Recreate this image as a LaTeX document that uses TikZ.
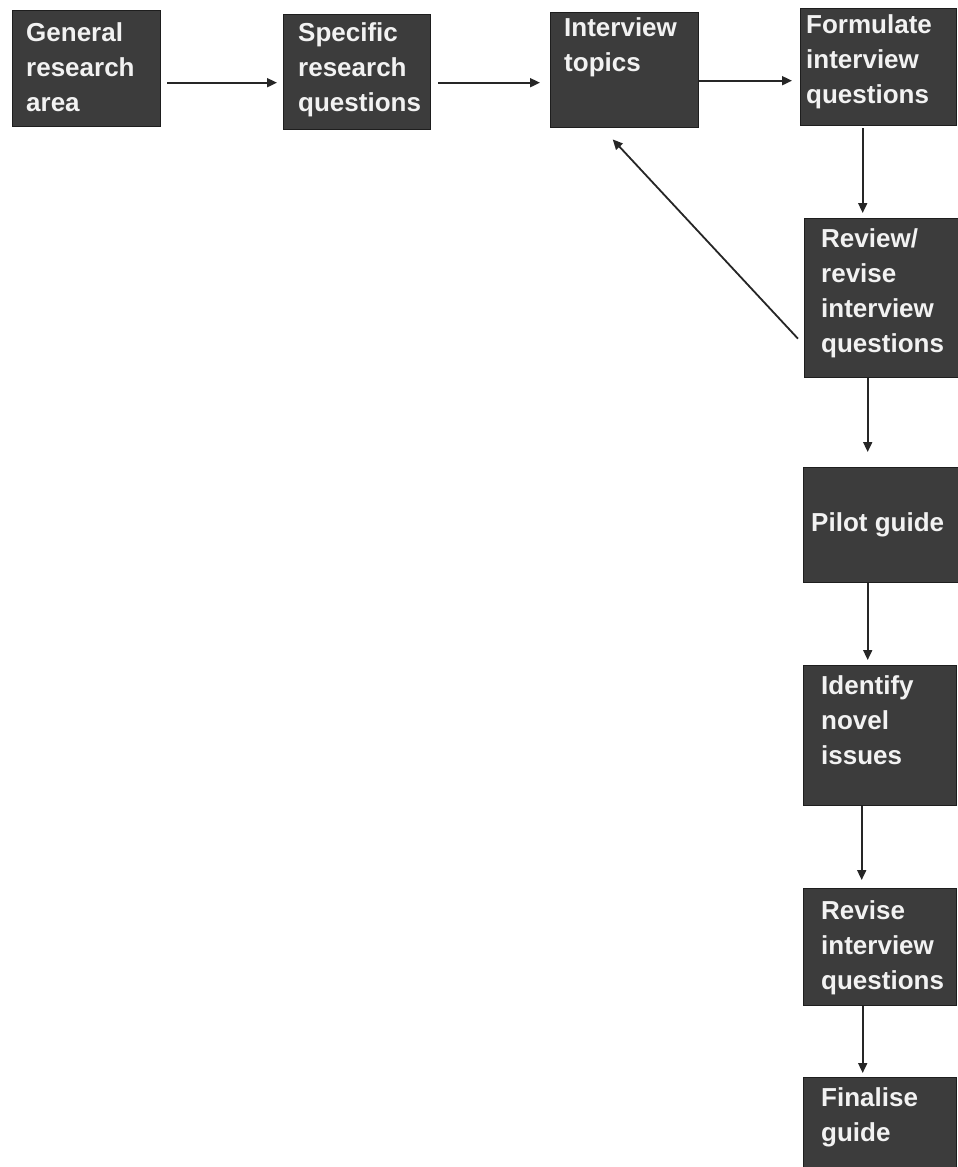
\documentclass[tikz,border=0pt]{standalone}
\usepackage{fontspec}
\setmainfont{Liberation Sans}
\usetikzlibrary{arrows.meta}
\definecolor{boxfill}{HTML}{3C3C3C}
\definecolor{boxedge}{HTML}{1E1E1E}
\definecolor{boxtext}{HTML}{F2F2F2}
\definecolor{linkcol}{HTML}{262626}
\tikzset{
  stagebox/.style={draw=boxedge, line width=1.4pt, fill=boxfill, anchor=north west, inner sep=0pt},
  stagetext/.style={anchor=north west, align=left, inner sep=0pt, text=boxtext,
    font=\fontsize{26}{35}\selectfont\bfseries},
  link/.style={draw=linkcol, line width=1.8pt, -{Triangle[length=10pt, width=9pt]}}
}
\begin{document}
\begin{tikzpicture}[x=1pt, y=-1pt]
  \clip (0,0) rectangle (958,1167);
  \fill[white] (0,0) rectangle (958,1167);

  % top row of stages
  \node[stagebox, minimum width=148pt, minimum height=116pt] (b1) at (12,10) {};
  \node[stagebox, minimum width=147pt, minimum height=115pt] (b2) at (283,14) {};
  \node[stagebox, minimum width=148pt, minimum height=115pt] (b3) at (550,12) {};
  \node[stagebox, minimum width=156pt, minimum height=117pt] (b4) at (800,8) {};

  % right-hand column of stages
  \node[stagebox, minimum width=160pt, minimum height=159pt] (b5) at (804,218) {};
  \node[stagebox, minimum width=160pt, minimum height=115pt] (b6) at (803,467) {};
  \node[stagebox, minimum width=153pt, minimum height=140pt] (b7) at (803,665) {};
  \node[stagebox, minimum width=153pt, minimum height=117pt] (b8) at (803,888) {};
  \node[stagebox, minimum width=153pt, minimum height=110pt] (b9) at (803,1077) {};

  % stage labels
  \node[stagetext] (t1) at ([shift={(14,12)}]b1.north west) {General\\research\\area};
  \node[stagetext] (t2) at ([shift={(15,8)}]b2.north west) {Specific\\research\\questions};
  \node[stagetext] (t3) at ([shift={(14,5)}]b3.north west) {Interview\\topics};
  \node[stagetext] (t4) at ([shift={(6,6)}]b4.north west) {Formulate\\interview\\questions};
  \node[stagetext] (t5) at ([shift={(17,10)}]b5.north west) {Review/\\revise\\interview\\questions};
  \node[stagetext, anchor=west] (t6) at ([shift={(8,0)}]b6.west) {Pilot guide};
  \node[stagetext] (t7) at ([shift={(18,10)}]b7.north west) {Identify\\novel\\issues};
  \node[stagetext] (t8) at ([shift={(18,12)}]b8.north west) {Revise\\interview\\questions};
  \node[stagetext] (t9) at ([shift={(18,10)}]b9.north west) {Finalise\\guide};

  % connectors
  \draw[link] ([shift={(6,14)}]b1.east) -- ([shift={(-6,10.5)}]b2.west);
  \draw[link] ([shift={(7,10.5)}]b2.east) -- ([shift={(-10,12.5)}]b3.west);
  \draw[link] ([shift={(0,10.5)}]b3.east) -- ([shift={(-8,13.5)}]b4.west);
  \draw[link] ([shift={(-16,2)}]b4.south) -- ([shift={(-22,-5)}]b5.north);
  \draw[link] ([shift={(-17,0)}]b5.south) -- ([shift={(-16,-15)}]b6.north);
  \draw[link] ([shift={(-16,0)}]b6.south) -- ([shift={(-12.5,-5)}]b7.north);
  \draw[link] ([shift={(-18.5,0)}]b7.south) -- ([shift={(-18.5,-8)}]b8.north);
  \draw[link] ([shift={(-17.5,0)}]b8.south) -- ([shift={(-17.5,-4)}]b9.north);
  \draw[link] ([shift={(-6,40.5)}]b5.west) -- ([shift={(-12,11)}]b3.south);
\end{tikzpicture}
\end{document}
